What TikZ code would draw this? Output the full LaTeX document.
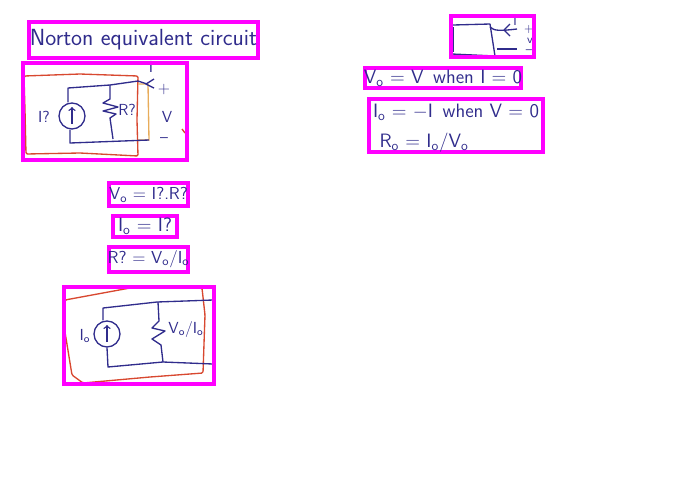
\documentclass[tikz,border=0pt]{standalone}
\usepackage{xcolor}
\usetikzlibrary{calc,positioning}
\definecolor{cInk}{RGB}{48,44,140}
\definecolor{cRed}{RGB}{216,72,48}
\definecolor{cOrg}{RGB}{232,172,90}
\definecolor{cMag}{RGB}{255,0,255}
\newcommand{\sub}[1]{\textsubscript{#1}}
\begin{document}
\begin{tikzpicture}[x=0.75pt,y=-0.75pt,
   w/.style={cInk,line width=1pt,line join=round},
   rd/.style={cRed,line width=1pt,rounded corners=1pt},
   og/.style={cOrg,line width=1pt},
   t/.style={cInk,inner sep=0pt,font=\sffamily\fontsize{12}{13}\selectfont},
   sm/.style={cInk,inner sep=0pt,font=\sffamily\fontsize{9}{10}\selectfont},
   e/.style={cInk,inner sep=0pt,font=\sffamily\fontsize{14.5}{16}\selectfont},
   el/.style={cInk,inner sep=0pt,font=\sffamily\fontsize{13}{14}\selectfont},
   h/.style={draw=cMag,line width=2.3pt,inner sep=0pt,outer sep=0pt,anchor=north west}]
  \useasboundingbox (0,0) rectangle (676,480);
  % first circuit
  \draw[rd] (24,76) -- (80,74) -- (138,76) -- (137,120) -- (138,156) -- (80,153) -- (26,154) -- (25,110) -- cycle;
  \draw[og] (138,84) -- (148,84) -- (149,140) -- (138,140);
  \node[w,draw,circle,minimum size=26*0.75pt,inner sep=0pt] (s1) at (72,116) {};
  \draw[w,->] (72,124) -- (72,107);
  \draw[w] (s1.north) ++(-4,0) -- (68,88) -- (110,85) -- (138,81) -- (147,84);
  \draw[w] (s1.south) ++(-2,0) -- (70,143) -- (149,140);
  \draw[w] (110,85) -- (110,99) -- (103,103) -- (118,107) -- (103,111) -- (116,114) -- (110,118) -- (113,139);
  \draw[w] (154,79) -- (146,84) -- (154,88);
  \node[t] (i1) at (44,117) {I?};
  \node[t] (r1) at (127,110) {R?};
  \node[t] (c1) at (151,67) {I};
  \node[t] (p1) at (164,90) {+};
  \node[t] (v1) at (167,117) {V};
  \node[t] (m1) at (164,140) {--};
  \draw[rd] (182,129) -- (185,133);
  % small circuit, upper right
  \draw[w] (453,25) -- (490,24) -- (495,56) -- (452,54);
  \draw[w] (453,27) -- (453,52);
  \draw[w] (490,27) .. controls (494,31) and (500,31) .. (517,29);
  \draw[w] (510,24) -- (504,30) -- (510,36);
  \draw[w] (497,49) -- (517,49);
  \node[sm] (c2) at (515,21) {I};
  \node[sm] (p2) at (529,29) {+};
  \node[sm] (v2) at (530,41) {v};
  \node[sm] (m2) at (529,52) {--};
  % second circuit
  \draw[rd] (65,300) -- (130,288) -- (202,288) -- (205,315) -- (203,373) -- (150,377) -- (83,383) -- (72,375) -- (65,332) -- cycle;
  \node[w,draw,circle,minimum size=26*0.75pt,inner sep=0pt] (s3) at (107,334) {};
  \draw[w,->] (107,342) -- (107,325);
  \draw[w] (s3.north) ++(-4,0) -- (103,308) -- (157,302) -- (213,300);
  \draw[w] (s3.south) -- (108,367) -- (163,362) -- (213,364);
  \draw[w] (158,302) -- (159,321) -- (152,328) -- (165,331) -- (152,339) -- (161,345) -- (163,362);
  \node[t] (i3) at (85,336) {I\sub{o}};
  \node[t] (r3) at (186,329) {V\sub{o}/I\sub{o}};
  % outlines and equations
  \node[h,minimum width=229*0.75pt,minimum height=36*0.75pt] (title) at (29,22) {};
  \node[cInk,inner sep=0pt,font=\sffamily\fontsize{17.5}{18}\selectfont] at (title.center) {Norton equivalent circuit};
  \node[h,minimum width=164*0.75pt,minimum height=97*0.75pt] (b1) at (23,63) {};
  \node[h,minimum width=83*0.75pt,minimum height=41*0.75pt] (b2) at (451,16) {};
  \node[h,minimum width=156*0.75pt,minimum height=20*0.75pt] (b3) at (365,68) {};
  \node[e] (q3) at (443,78) {V\sub{o} = V\enspace when I = 0};
  \node[h,minimum width=174*0.75pt,minimum height=53*0.75pt] (b4) at (369,99) {};
  \node[e] (q4) at (456,112) {I\sub{o} = $-$I\enspace when V = 0};
  \node[e] (q5) at (424,143) {R\sub{o} = I\sub{o}/V\sub{o}};
  \node[h,minimum width=79*0.75pt,minimum height=23*0.75pt] (b5) at (109,183) {};
  \node[el] (q6) at (148.5,195) {V\sub{o} = I?.R?};
  \node[h,minimum width=64*0.75pt,minimum height=21*0.75pt] (b6) at (113,216) {};
  \node[e] (q7) at (145,226.5) {I\sub{o} = I?};
  \node[h,minimum width=79*0.75pt,minimum height=25*0.75pt] (b7) at (109,247) {};
  \node[el] (q8) at (148.5,259) {R? = V\sub{o}/I\sub{o}};
  \node[h,minimum width=150*0.75pt,minimum height=97*0.75pt] (b8) at (64,287) {};
\end{tikzpicture}
\end{document}
